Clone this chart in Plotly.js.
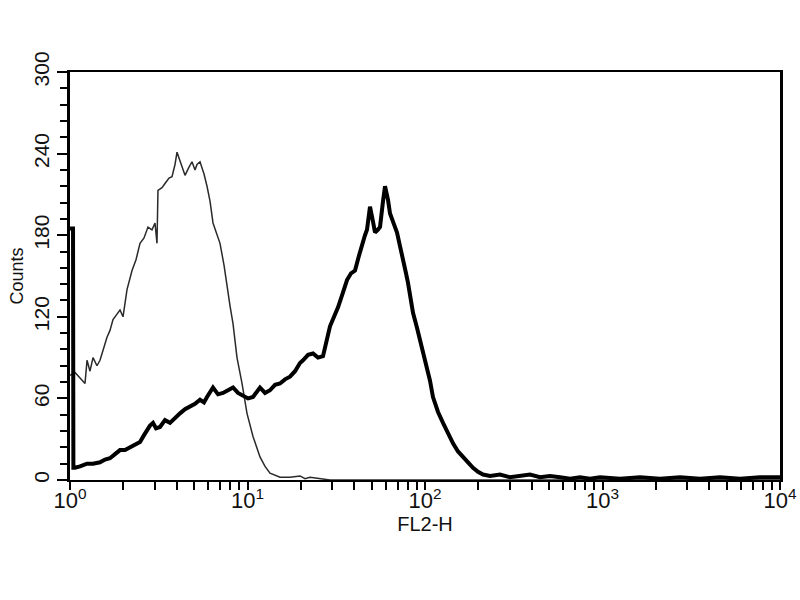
<!DOCTYPE html>
<html>
<head>
<meta charset="utf-8">
<script src="https://cdn.plot.ly/plotly-3.0.1.min.js"></script>
<style>html,body{margin:0;padding:0;background:#fff;}#chart{width:800px;height:600px;}</style>
</head>
<body>
<div id="chart"></div>
<script>
// Control (thin line) histogram: FL2-H value vs counts
const ctrlX = [1.0, 1.067, 1.139, 1.215, 1.247, 1.296, 1.348, 1.419, 1.476, 1.554, 1.616, 1.680, 1.747, 1.840, 1.913, 1.989, 2.095, 2.236, 2.354, 2.480, 2.612, 2.750, 2.897, 3.012, 3.091, 3.131, 3.298, 3.429, 3.612, 3.756, 3.905, 4.008, 4.167, 4.332, 4.446, 4.683, 4.869, 5.062, 5.195, 5.401, 5.688, 5.914, 6.149, 6.393, 6.733, 7.000, 7.373, 7.665, 7.970, 8.286, 8.727, 9.312, 9.935, 10.74, 11.76, 12.55, 13.39, 15.25, 17.35, 19.76, 21.09, 22.50, 25.62, 29.16, 72.3, 10000];
const ctrlY = [77, 79, 75, 71, 88, 80, 90, 84, 88, 98, 105, 110, 118, 122, 125, 120, 140, 154, 162, 174, 178, 186, 184, 189, 174, 213, 215, 218, 222, 223, 232, 241, 235, 228, 224, 230, 234, 228, 232, 234, 225, 216, 205, 189, 180, 174, 158, 142, 128, 115, 90, 71, 49, 32, 17, 10, 5, 2, 2, 3, 1, 2, 1, 0, 0, 0];

// Stained sample (thick line) histogram
const stainX = [1.0, 1.04, 1.045, 1.067, 1.139, 1.247, 1.348, 1.476, 1.575, 1.680, 1.793, 1.913, 2.041, 2.178, 2.323, 2.480, 2.612, 2.715, 2.823, 2.935, 3.051, 3.214, 3.429, 3.660, 3.905, 4.167, 4.446, 4.744, 5.062, 5.401, 5.688, 5.914, 6.149, 6.393, 6.823, 7.278, 7.766, 8.286, 8.841, 9.433, 10.07, 10.74, 11.31, 11.76, 12.55, 13.39, 14.29, 15.25, 16.27, 17.35, 18.52, 19.76, 20.55, 21.93, 23.39, 24.96, 26.63, 28.05, 29.16, 30.72, 32.36, 34.52, 36.36, 38.30, 40.34, 42.49, 44.18, 45.91, 47.12, 48.99, 50.94, 52.28, 54.35, 55.79, 58.00, 59.53, 61.89, 63.52, 66.90, 69.55, 72.30, 75.17, 78.16, 80.21, 83.39, 85.59, 90.13, 93.71, 98.71, 102.6, 106.7, 110.9, 118.4, 126.3, 134.8, 143.8, 153.5, 163.8, 174.7, 186.4, 198.9, 212.3, 232.4, 264.6, 301.2, 342.9, 390.5, 444.6, 506.2, 576.3, 656.1, 746.9, 850.4, 968.2, 1255, 1627, 2109, 2734, 3543, 4592, 5953, 7716, 10000];
const stainY = [185, 185, 9, 9, 10, 12, 12, 13, 15, 16, 19, 22, 22, 24, 26, 28, 33, 37, 40, 42, 38, 39, 44, 42, 46, 49, 52, 54, 56, 59, 57, 61, 64, 68, 63, 64, 66, 68, 64, 62, 60, 61, 65, 68, 64, 66, 70, 71, 74, 76, 80, 86, 88, 92, 93, 90, 91, 104, 113, 120, 127, 138, 147, 152, 154, 165, 174, 180, 184, 201, 190, 182, 184, 186, 205, 216, 206, 196, 188, 182, 172, 160, 152, 145, 133, 123, 112, 103, 92, 83, 73, 61, 50, 42, 34, 27, 21, 17, 12, 9, 6, 4, 3, 4, 2, 3, 4, 2, 3, 2, 1, 2, 1, 2, 1, 2, 1, 2, 1, 2, 1, 2, 2];

const xMajor = [1, 10, 100, 1000, 10000];
const xMajorText = ['10<sup>0</sup>', '10<sup>1</sup>', '10<sup>2</sup>', '10<sup>3</sup>', '10<sup>4</sup>'];
const xTickMarks = [1,2,3,4,5,6,7,8,9,10,20,30,40,50,60,70,80,90,100,200,300,400,500,600,700,800,900,1000,2000,3000,4000,5000,6000,7000,8000,9000,10000];
const yTicks = [0, 60, 120, 180, 240, 300];

const traces = [
  {x: ctrlX, y: ctrlY, type: 'scatter', mode: 'lines', line: {color: '#2a2a2a', width: 1.5}, hoverinfo: 'skip'},
  {x: stainX, y: stainY, type: 'scatter', mode: 'lines', line: {color: '#000', width: 4}, hoverinfo: 'skip'}
];

const layout = {
  width: 800, height: 600,
  margin: {l: 70, r: 20, t: 72, b: 120, pad: 0},
  paper_bgcolor: '#fff', plot_bgcolor: '#fff',
  showlegend: false,
  xaxis: {
    type: 'log', range: [0, 4], autorange: false,
    showgrid: false, zeroline: false,
    showline: true, linecolor: '#000', linewidth: 2, mirror: true,
    ticks: '', 
    tickmode: 'array', tickvals: xMajor, ticktext: xMajorText,
    minor: {tickmode: 'array', tickvals: xTickMarks, ticks: 'outside', ticklen: 8, tickwidth: 2, tickcolor: '#000', showgrid: false},
    tickfont: {family: '"Liberation Sans Narrow", "Liberation Sans", Arial, sans-serif', size: 22, color: '#111'},
    title: {text: 'FL2-H', standoff: 2, font: {family: '"Liberation Sans Narrow", "Liberation Sans", Arial, sans-serif', size: 20, color: '#111'}}
  },
  yaxis: {
    range: [0, 300], autorange: false,
    showgrid: false, zeroline: false,
    showline: true, linecolor: '#000', linewidth: 3, mirror: true,
    ticks: 'outside', ticklen: 10, tickwidth: 2, tickcolor: '#000',
    tickmode: 'array', tickvals: yTicks,
    minor: {dtick: 12, ticks: 'outside', ticklen: 7, tickwidth: 2, tickcolor: '#000', showgrid: false},
    tickangle: -90,
    tickfont: {family: '"Liberation Sans", Arial, sans-serif', size: 21, color: '#111'},
    title: {text: 'Counts', standoff: 2, font: {family: '"Liberation Sans", Arial, sans-serif', size: 18, color: '#111'}}
  }
};

Plotly.newPlot('chart', traces, layout, {staticPlot: true, displayModeBar: false});
</script>
</body>
</html>
